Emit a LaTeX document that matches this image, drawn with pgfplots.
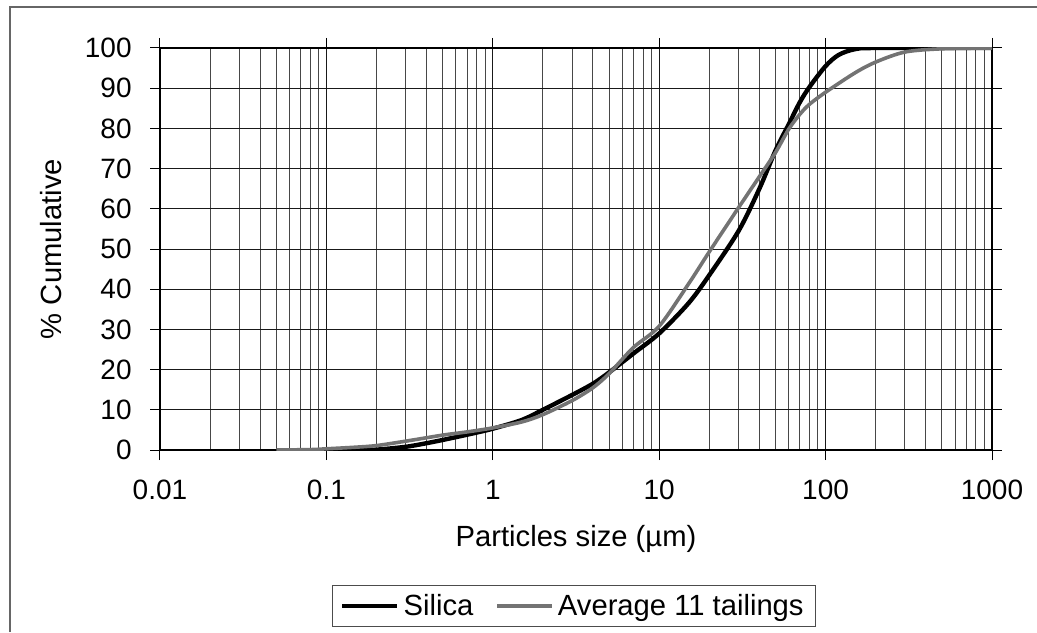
\documentclass[border=0pt]{standalone}
\usepackage{fontspec}
\setmainfont{Liberation Sans}
\usepackage{pgfplots}
\pgfplotsset{compat=1.18}
\newcommand{\fs}{\fontsize{14pt}{17pt}\selectfont}
\newcommand{\fl}{\fontsize{14.6pt}{17pt}\selectfont}
\begin{document}
\begin{tikzpicture}
\useasboundingbox (0,0) rectangle (518.5pt,316pt);
\draw[black!60, line width=0.6pt] (5pt,0) -- (5pt,312.5pt) -- (518.5pt,312.5pt);
\begin{axis}[
  at={(80pt,91pt)}, anchor=south west,
  scale only axis, width=416pt, height=201pt,
  xmode=log, xmin=0.01, xmax=1000, ymin=0, ymax=100,
  log basis x=10,
  xtick={0.01,0.1,1,10,100,1000},
  xticklabels={0.01,0.1,1,10,100,1000},
  minor xtick={0.02,0.03,0.04,0.05,0.06,0.07,0.08,0.09,
    0.2,0.3,0.4,0.5,0.6,0.7,0.8,0.9,
    2,3,4,5,6,7,8,9,
    20,30,40,50,60,70,80,90,
    200,300,400,500,600,700,800,900},
  ytick={0,10,...,100},
  yticklabels={0,10,20,30,40,50,60,70,80,90,100},
  tick align=outside, major tick length=5pt, minor tick length=0pt,
  tick style={black, line width=0.5pt},
  grid=both,
  major grid style={black!90, line width=0.5pt},
  minor grid style={black!72, line width=0.5pt},
  axis line style={black, line width=1.3pt},
  xticklabel style={font=\fs, inner sep=0pt, yshift=-10pt},
  yticklabel style={font=\fs, anchor=east, inner sep=0pt},
  every y tick label/.append style={xshift=-9pt},
  xlabel={Particles size (µm)},
  ylabel={\% Cumulative},
  label style={font=\fl},
  xlabel style={at={(axis description cs:0.5,-0.221)}, anchor=center},
  ylabel style={at={(axis description cs:-0.131,0.5)}, anchor=center},
  legend style={at={(axis description cs:0.4975,-0.388)}, anchor=center,
    legend columns=2, draw=black!70, line width=0.5pt, font=\fl,
    inner xsep=4pt, inner ysep=2pt,
    /tikz/every even column/.append style={column sep=9pt}},
  legend image code/.code={\draw[#1] (0pt,0pt) -- (27.5pt,0pt);},
]
\addplot[black, line width=2.2pt, smooth] coordinates {
(0.15,0) (0.2,0.1) (0.3,0.8) (0.4,1.7) (0.5,2.5) (0.7,3.8) (1,5.3) (1.5,7.5)
(2,10) (3,13.7) (4,16.5) (5,19.3) (7,24) (10,29) (15,36.5) (20,43.5) (30,54.5)
(40,65) (50,74.5) (60,81) (70,86.5) (80,90.3) (100,95.5) (120,98.3) (150,99.7)
(200,100) (1000,100)
};
\addlegendentry{Silica}
\addplot[black!55, line width=1.8pt, smooth] coordinates {
(0.05,0) (0.08,0.1) (0.1,0.3) (0.15,0.7) (0.2,1.1) (0.3,2.2) (0.5,3.7) (0.7,4.5)
(1,5.5) (1.5,7) (2,8.8) (3,12.3) (4,15.5) (5,19) (7,25.5) (10,30.8) (15,41.3) (20,49.3)
(30,60.3) (40,68) (50,74) (60,79.8) (70,83.5) (80,86) (100,89) (150,93.8) (200,96.5)
(300,99) (500,99.8) (1000,100)
};
\addlegendentry{Average 11 tailings}
\end{axis}
\end{tikzpicture}
\end{document}
